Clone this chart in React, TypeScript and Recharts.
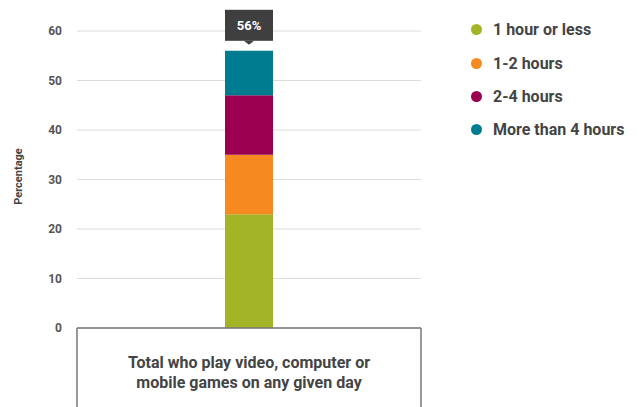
import React from 'react'
import { BarChart, Bar, XAxis, YAxis, CartesianGrid, LabelList } from 'recharts'

const categories = ['Total who play video, computer or mobile games on any given day']
const categoryLines = [['Total who play video, computer or', 'mobile games on any given day']]
const seriesNames = ['1 hour or less', '1-2 hours', '2-4 hours', 'More than 4 hours']
const seriesKeys = ['h1', 'h2', 'h4', 'h4plus']
const seriesValues = [[23], [12], [12], [9]]
const yTicks = [0, 10, 20, 30, 40, 50, 60]

const COLORS = ['#a3b526', '#f6891f', '#9a004f', '#007c91']
const FONT = 'Roboto, "Open Sans", sans-serif'
const TEXT = '#444444'

const data = categories.map((name, i) => {
  const row: Record<string, any> = { name, lines: categoryLines[i] }
  seriesKeys.forEach((k, s) => {
    row[k] = seriesValues[s][i]
  })
  return row
})

const totals = categories.map((_, i) => seriesValues.reduce((sum, s) => sum + s[i], 0))

function CategoryTick(props: any) {
  const { x, y, payload } = props
  const half = payload.offset || 172
  const lines: string[] = data[payload.index]?.lines || [payload.value]
  return (
    <g>
      <line x1={x - half} y1={y} x2={x - half} y2={y + 82} stroke="#777" strokeWidth={1.5} />
      <line x1={x + half} y1={y} x2={x + half} y2={y + 82} stroke="#777" strokeWidth={1.5} />
      {lines.map((t, i) => (
        <text
          key={i}
          x={x}
          y={y + 40 + i * 20}
          textAnchor="middle"
          fill={TEXT}
          fontSize={16}
          fontWeight={700}
          fontFamily={FONT}
        >
          {t}
        </text>
      ))}
    </g>
  )
}

function TotalLabel(props: any) {
  const { x, y, width, index } = props
  const cx = x + width / 2
  const boxTop = y - 41
  return (
    <g>
      <rect x={x} y={boxTop} width={width} height={31} fill="#3f3f3f" />
      <path d={`M${cx - 5},${boxTop + 31} L${cx + 5},${boxTop + 31} L${cx},${boxTop + 35} Z`} fill="#3f3f3f" />
      <text
        x={cx}
        y={boxTop + 20}
        textAnchor="middle"
        fill="#fff"
        fontSize={13}
        fontWeight={700}
        fontFamily={FONT}
      >
        {`${totals[index]}%`}
      </text>
    </g>
  )
}

function YLabel(props: any) {
  const { viewBox } = props
  const cx = viewBox.x + 18
  const cy = viewBox.y + viewBox.height / 2 - 3
  return (
    <text
      x={cx}
      y={cy}
      transform={`rotate(-90, ${cx}, ${cy})`}
      textAnchor="middle"
      dominantBaseline="central"
      fill={TEXT}
      fontSize={11}
      fontWeight={700}
      fontFamily={FONT}
    >
      Percentage
    </text>
  )
}

function LegendList() {
  return (
    <div style={{ position: 'absolute', left: 471, top: 13, fontFamily: FONT }}>
      {seriesNames.map((n, i) => (
        <div key={n} style={{ display: 'flex', alignItems: 'center', height: 33.4 }}>
          <span
            style={{
              width: 11,
              height: 11,
              borderRadius: '50%',
              background: COLORS[i],
              display: 'inline-block',
              marginRight: 11,
            }}
          />
          <span style={{ color: TEXT, fontSize: 16, fontWeight: 700 }}>{n}</span>
        </div>
      ))}
    </div>
  )
}

export default function App() {
  return (
    <div style={{ position: 'absolute', left: 0, top: 0, width: 638, height: 407, background: '#fff' }}>
      <BarChart
        width={638}
        height={407}
        data={data}
        margin={{ top: 31, right: 217, bottom: 0, left: 0 }}
      >
        <CartesianGrid horizontal vertical={false} stroke="#dcdcdc" />
        <YAxis
          width={77}
          domain={[0, 60]}
          ticks={yTicks}
          axisLine={false}
          tickLine={false}
          tickMargin={9}
          tick={{ fill: '#555', fontSize: 12, fontWeight: 700, fontFamily: FONT }}
          label={<YLabel />}
        />
        <XAxis
          dataKey="name"
          height={79}
          interval={0}
          axisLine={{ stroke: '#777', strokeWidth: 1.5 }}
          tickLine={false}
          tickSize={0}
          tickMargin={0}
          tick={<CategoryTick />}
        />
        {seriesKeys.map((k, i) => (
          <Bar
            key={k}
            dataKey={k}
            name={seriesNames[i]}
            stackId="a"
            fill={COLORS[i]}
            barSize={48}
            isAnimationActive={false}
          >
            {i === seriesKeys.length - 1 && <LabelList content={<TotalLabel />} />}
          </Bar>
        ))}
      </BarChart>
      <LegendList />
    </div>
  )
}
